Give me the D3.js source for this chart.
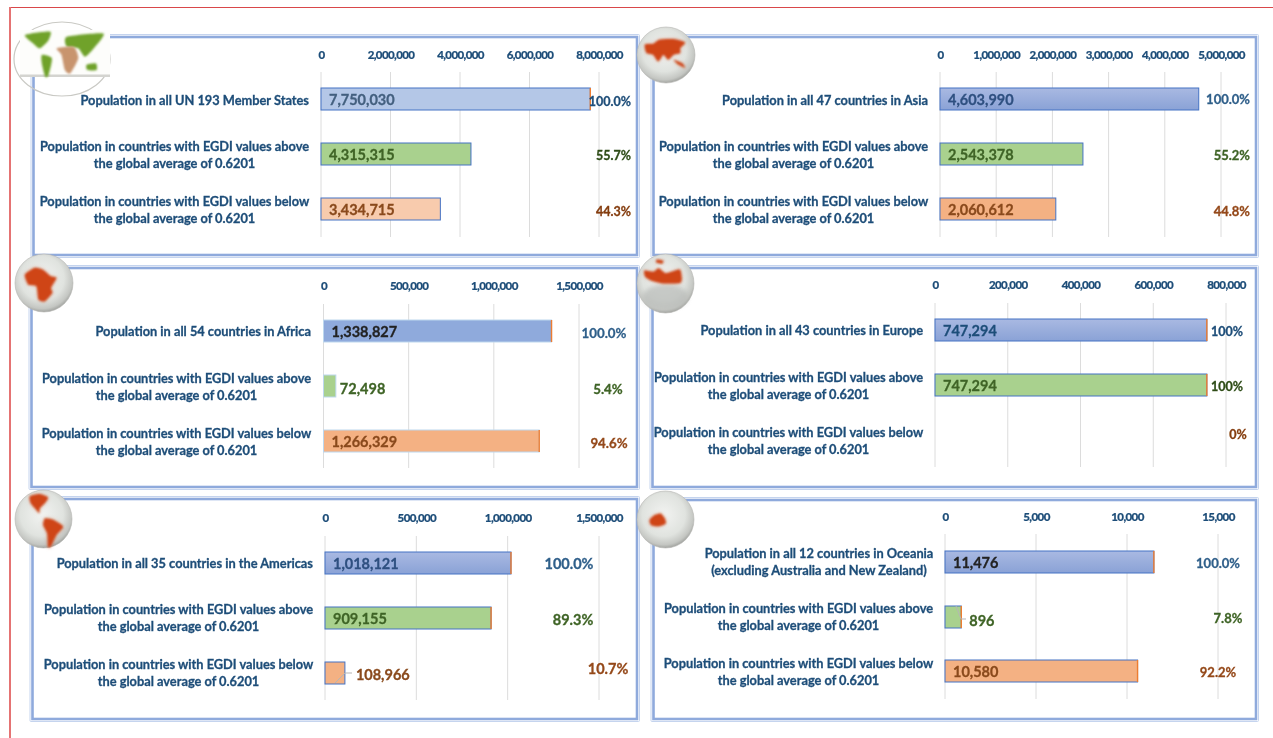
<!DOCTYPE html>
<html><head><meta charset="utf-8">
<script src="https://cdn.jsdelivr.net/npm/d3@7"></script>
<style>
html,body{margin:0;padding:0;background:#fff;overflow:hidden}
svg{display:block}
text{font-family:Lato,"Open Sans",sans-serif;font-weight:700}
</style></head><body>
<script>
// ---------- data ----------
const aboveLabel = ["Population in countries with EGDI values above","the global average of 0.6201"];
const belowLabel = ["Population in countries with EGDI values below","the global average of 0.6201"];
const worldFirstLabel = ["Population in all UN 193 Member States"];
const asiaFirstLabel = ["Population in all 47 countries in Asia"];
const africaFirstLabel = ["Population in all 54 countries in Africa"];
const europeFirstLabel = ["Population in all 43 countries in Europe"];
const americasFirstLabel = ["Population in all 35 countries in the Americas"];
const oceaniaFirstLabel = ["Population in all 12 countries in Oceania","(excluding Australia and New Zealand)"];

const worldValues = [7750030,4315315,3434715];
const asiaValues = [4603990,2543378,2060612];
const africaValues = [1338827,72498,1266329];
const europeValues = [747294,747294,null];
const americasValues = [1018121,909155,108966];
const oceaniaValues = [11476,896,10580];

const worldShares = ["100.0%","55.7%","44.3%"];
const asiaShares = ["100.0%","55.2%","44.8%"];
const africaShares = ["100.0%","5.4%","94.6%"];
const europeShares = ["100%","100%","0%"];
const americasShares = ["100.0%","89.3%","10.7%"];
const oceaniaShares = ["100.0%","7.8%","92.2%"];

const worldTicks = [0,2000000,4000000,6000000,8000000];
const asiaTicks = [0,1000000,2000000,3000000,4000000,5000000];
const africaTicks = [0,500000,1000000,1500000];
const europeTicks = [0,200000,400000,600000,800000];
const americasTicks = [0,500000,1000000,1500000];
const oceaniaTicks = [0,5000,10000,15000];

// ---------- layout and styling ----------
const panels = [
 {labels:worldFirstLabel,values:worldValues,shares:worldShares,ticks:worldTicks,
  frame:[33.5,37,637,255],x:[321,599],tickY:55,grid:[72,237],barY:[88,143,198],labelX:309,labelY:[100,146,201],
  shareX:[631,631,631],shareAnchor:"end",shareY:[101,155,211],shareSize:12.5,fills:["#b4c7e7","#a9d18e","#f8cbad"],stroke:"#4472c4",
  tips:[1,0,0],inside:[1,1,1],first:"#44607f",shareDark:true,valueDy:[0,0,0]},
 {labels:asiaFirstLabel,values:asiaValues,shares:asiaShares,ticks:asiaTicks,
  frame:[653.5,37,1256,255],x:[940,1221],tickY:55,grid:[72,237],barY:[88,143,198],labelX:928,labelY:[100,146,201],
  shareX:[1250,1250,1250],shareAnchor:"end",shareY:[99,155,211],shareSize:13,fills:["url(#blueGrad)","#a9d18e","#f4b183"],stroke:"#4472c4",
  tips:[0,0,0],inside:[1,1,1],first:"#2f5080",valueDy:[0,0,0]},
 {labels:africaFirstLabel,values:africaValues,shares:africaShares,ticks:africaTicks,
  frame:[31.5,268,637,487],x:[323.5,579],tickY:286,grid:[304,468],barY:[320,375,430],labelX:311,labelY:[331,378,433],
  shareX:[604,608,609],shareAnchor:"middle",shareY:[333,389,443],shareSize:13.3,fills:["#8faadc","#a9d18e","#f4b183"],stroke:"#bdd7ee",
  tips:[1,0,1],inside:[1,0,1],first:"#222222",valueDy:[0,2,0]},
 {labels:europeFirstLabel,values:europeValues,shares:europeShares,ticks:europeTicks,
  frame:[652.5,268,1256,487],x:[935,1226],tickY:285,grid:[303,467],barY:[319,374,429],labelX:923,labelY:[330,377,432],
  shareX:[1227,1227,1238],shareAnchor:"middle",shareY:[331,386,434],shareSize:12.5,fills:["url(#blueGrad)","#a9d18e","#f4b183"],stroke:"#4472c4",
  tips:[1,1,0],inside:[1,1,1],first:"#1f4e79",shareDark:true,valueDy:[0,0,0]},
 {labels:americasFirstLabel,values:americasValues,shares:americasShares,ticks:americasTicks,
  frame:[32.5,499,637,719],x:[325,599],tickY:518,grid:[536,700],barY:[552,607,662],labelX:313,labelY:[563,609,664],
  shareX:[569,573,608],shareAnchor:"middle",shareY:[564,620,669],shareSize:14.5,fills:["url(#blueGrad)","#a9d18e","#f4b183"],stroke:"#4472c4",
  tips:[1,1,0],inside:[1,1,0],first:"#2f5080",outsideGap:[0,0,11],valueDy:[0,0,1],
  leader:[[335,683],[345,673],[352,673]]},
 {labels:oceaniaFirstLabel,values:oceaniaValues,shares:oceaniaShares,ticks:oceaniaTicks,
  frame:[653.5,500,1256,719],x:[945,1218],tickY:517,grid:[534,699],barY:[551,606,660],labelX:933,labelY:[553,608,663],
  shareX:[1218,1228,1218],shareAnchor:"middle",shareY:[563,618,672],shareSize:13,fills:["url(#blueGrad)","#a9d18e","#f4b183"],stroke:"#4472c4",
  tips:[1,1,1],inside:[1,0,1],first:"#222222",outsideGap:[0,8,0],valueDy:[0,3,0],
  leader:[[956,606],[961,619],[966,619]]}
];
const barH = 22, lineH = 17;
const labelColors = [null,"#3f6426","#8a4a1c"];
const shareColors = ["#2f5f8a","#3f6426","#94481a"];
const shareDarkColors = ["#1f4e79","#2f4d18","#843c0c"];

const globeAsia = [[[-.73,-.37],[-.44,-.4],[-.21,-.55],[.26,-.57],[.66,-.45],[.49,-.25],[.49,-.07],[.26,-.01],[.08,.17],[-.09,-.01],[-.27,.23],[-.44,-.01],[-.67,-.07]],[[.26,.17],[.55,.29],[.66,.46],[.43,.35]]];
const globeEurope = [[[-.74,-.44],[-.42,-.4],[-.24,-.52],[-.01,-.35],[.22,-.4],[.51,-.47],[.57,-.17],[.51,-.02],[.05,0],[-.19,-.02],[-.48,-.09],[-.71,-.23]],[[-.3,-.81],[-.07,-.76],[-.13,-.67],[-.33,-.72]]];
const globeAfrica = [[[-.66,-.29],[-.33,-.52],[-.04,-.46],[.24,-.23],[.43,-.17],[.24,.17],[.29,.34],[.03,.63],[-.19,.57],[-.26,.11],[-.54,.06]]];
const globeAmericas = [[[-.48,-.78],[-.13,-.86],[.16,-.74],[.05,-.55],[-.13,-.37],[-.15,-.2],[-.3,-.37],[-.45,-.55]],[[.05,-.02],[.34,.03],[.69,.27],[.45,.56],[.28,.91],[.16,.97],[.13,.5],[-.01,.21]]];
const globeOceania = [[[-.56,.02],[-.39,-.15],[-.17,-.21],[-.03,-.04],[.01,.14],[-.24,.24],[-.5,.2]]];
const mapGreen = [[[-.77,-.65],[-.25,-.74],[-.28,-.51],[-.46,-.29],[-.6,-.42]],[[-.42,-.11],[-.21,-.02],[-.28,.43],[-.35,.48],[-.42,.12]],[[.1,-.6],[.86,-.69],[.69,-.33],[.48,-.06],[.34,-.29],[.1,-.33]],[[.51,.16],[.71,.12],[.72,.3],[.53,.3]]];
const mapBrown = [[[-.11,-.29],[.24,-.33],[.34,-.02],[.17,.39],[.06,.3],[-.01,-.11]]];
const globes = [
 {c:[666,55],r:[29,28],land:globeAsia},
 {c:[44,283],r:[29,29],land:globeAfrica},
 {c:[665.5,283.5],r:[28.5,29.5],land:globeEurope,shaded:true},
 {c:[43.5,519],r:[28.5,29],land:globeAmericas},
 {c:[665.5,519.5],r:[28.5,28.5],land:globeOceania}
];

// ---------- drawing ----------
const svg = d3.select("body").append("svg").attr("width",1273).attr("height",738);
const defs = svg.append("defs");
const bg = defs.append("linearGradient").attr("id","blueGrad").attr("x1",0).attr("y1",0).attr("x2",0).attr("y2",1);
bg.append("stop").attr("offset",0).attr("stop-color","#a9b9e2");
bg.append("stop").attr("offset",1).attr("stop-color","#8aa2d6");
const gg = defs.append("radialGradient").attr("id","globeGrad").attr("cx",.47).attr("cy",.42).attr("r",.58);
gg.append("stop").attr("offset",0).attr("stop-color","#f2f3f1");
gg.append("stop").attr("offset",.65).attr("stop-color","#e0e3df");
gg.append("stop").attr("offset",.9).attr("stop-color","#c4c6c2");
gg.append("stop").attr("offset",1).attr("stop-color","#a3a5a1");
defs.append("filter").attr("id","soft").attr("x","-5%").attr("y","-20%").attr("width","110%").attr("height","140%")
  .append("feGaussianBlur").attr("stdDeviation",.3);
defs.append("filter").attr("id","softer").attr("x","-30%").attr("y","-30%").attr("width","160%").attr("height","160%")
  .append("feGaussianBlur").attr("stdDeviation",1);
defs.append("filter").attr("id","halo").attr("x","-40%").attr("y","-40%").attr("width","180%").attr("height","180%")
  .append("feGaussianBlur").attr("stdDeviation",2.2);

// red page border
svg.append("line").attr("x1",10).attr("x2",1273).attr("y1",7.5).attr("y2",7.5).attr("stroke","#d9474a").attr("stroke-width",1);
svg.append("line").attr("x1",10).attr("x2",10).attr("y1",7).attr("y2",738).attr("stroke","#e57373").attr("stroke-width",2);

const fmt = d3.format(",");
const lineShape = d3.line().curve(d3.curveCardinalClosed.tension(.4));
const thicken = (sel,c)=>sel.attr("stroke",c).attr("stroke-width",.3);

panels.forEach(p => {
  const g = svg.append("g");
  const [fx0,fy0,fx1,fy1] = p.frame;
  g.append("rect").attr("x",fx0-2.5).attr("y",fy0-2.5).attr("width",fx1-fx0+5).attr("height",fy1-fy0+5)
    .attr("fill","none").attr("stroke","#c5d4ee").attr("stroke-width",1).attr("rx",1);
  g.append("rect").attr("x",fx0).attr("y",fy0).attr("width",fx1-fx0).attr("height",fy1-fy0)
    .attr("fill","#fff").attr("stroke","#8faadc").attr("stroke-width",2.6);

  const maxTick = p.ticks[p.ticks.length-1];
  const x = d3.scaleLinear().domain([0,maxTick]).range(p.x);

  g.selectAll("line.grid").data(p.ticks).join("line").attr("class","grid")
    .attr("x1",d=>x(d)).attr("x2",d=>x(d)).attr("y1",p.grid[0]).attr("y2",p.grid[1])
    .attr("stroke","#dcdcdc").attr("stroke-width",1);

  const axis = g.append("g").attr("transform",`translate(0,${p.tickY+4})`)
    .call(d3.axisTop(x).tickValues(p.ticks).tickSize(0).tickPadding(0).tickFormat(fmt));
  axis.select(".domain").remove();
  axis.selectAll("text").attr("fill","#1f4e79").style("font-size","11.5px").style("font-weight",900)
    .attr("letter-spacing","-.6").attr("stroke","#1f4e79").attr("stroke-width",.2).attr("filter","url(#soft)");

  p.values.forEach((v,i) => {
    const rows = i===0 ? p.labels : (i===1 ? aboveLabel : belowLabel);
    const t = g.append("text").attr("fill","#1f4e79").attr("font-size",12.8).attr("filter","url(#soft)");
    thicken(t,"#1f4e79");
    const isFirstSingle = i===0 && rows.length===1;
    const centre = i===0 ? p.labelX-114 : p.labelX-134.5;
    t.attr("text-anchor", isFirstSingle ? "end" : "middle");
    rows.forEach((r,k) => {
      t.append("tspan").attr("x", isFirstSingle ? p.labelX : centre).attr("y",p.labelY[i]+k*lineH+5).text(r);
    });

    if (v !== null) {
      const by = p.barY[i];
      g.append("rect").attr("x",x(0)).attr("y",by).attr("width",x(v)-x(0)).attr("height",barH)
        .attr("fill",p.fills[i]).attr("stroke",p.stroke).attr("stroke-width",1);
      if (p.tips[i]) g.append("line").attr("x1",x(v)).attr("x2",x(v)).attr("y1",by).attr("y2",by+barH)
        .attr("stroke","#ed7d31").attr("stroke-width",1.4);
      const gap = (p.outsideGap||[0,0,0])[i];
      const tx = p.inside[i] ? x(0)+8 : x(v)+(gap||4);
      const col = labelColors[i]||p.first;
      thicken(g.append("text").attr("x",tx).attr("y",by+barH/2+5.5+p.valueDy[i]).attr("font-size",14.5)
        .attr("fill",col).attr("filter","url(#soft)").text(fmt(v)),col);
    }
    const sc = (p.shareDark?shareDarkColors:shareColors)[i];
    thicken(g.append("text").attr("x",p.shareX[i]).attr("y",p.shareY[i]+4.5).attr("text-anchor",p.shareAnchor)
      .attr("font-size",p.shareSize).attr("fill",sc).attr("filter","url(#soft)").text(p.shares[i]),sc);
  });
  if (p.leader) g.append("path").attr("d",d3.line()(p.leader)).attr("fill","none").attr("stroke","#b5b5b5").attr("stroke-width",1);
});

// world-map badge
const wm = svg.append("g");
const wc=[62,59], wr=[48,37];
wm.append("ellipse").attr("cx",wc[0]).attr("cy",wc[1]).attr("rx",wr[0]).attr("ry",wr[1])
  .attr("fill","none").attr("stroke","#c9c9c4").attr("stroke-width",1.2);
wm.append("rect").attr("x",20).attr("y",30).attr("width",90).attr("height",47).attr("fill","#fdfdfb");
wm.append("rect").attr("x",20).attr("y",74.5).attr("width",90).attr("height",2.5).attr("fill","#d4d4d0");
const scaleShape = (pts,c,r)=>pts.map(q=>[c[0]+q[0]*r[0],c[1]+q[1]*r[1]]);
mapGreen.forEach(s=>wm.append("path").attr("d",lineShape(scaleShape(s,wc,wr))).attr("fill","#6fa22a").attr("filter","url(#softer)"));
mapBrown.forEach(s=>wm.append("path").attr("d",lineShape(scaleShape(s,wc,wr))).attr("fill","#c8946e").attr("filter","url(#softer)"));

// globes
globes.forEach(b=>{
  const g = svg.append("g");
  g.append("ellipse").attr("cx",b.c[0]).attr("cy",b.c[1]).attr("rx",b.r[0]).attr("ry",b.r[1])
    .attr("fill","url(#globeGrad)").attr("stroke","#b5b6b2").attr("stroke-width",.6);
  if (b.shaded) g.append("ellipse").attr("cx",b.c[0]).attr("cy",b.c[1]+b.r[1]*.45).attr("rx",b.r[0]*.8).attr("ry",b.r[1]*.42)
    .attr("fill","#b9bcb9").attr("opacity",.7).attr("filter","url(#halo)");
  b.land.forEach(s=>{
    const d = lineShape(scaleShape(s,b.c,b.r));
    g.append("path").attr("d",d).attr("fill","#d8836a").attr("opacity",.55).attr("filter","url(#halo)");
    g.append("path").attr("d",d).attr("fill","#cf4516").attr("filter","url(#softer)");
  });
});
</script>
</body></html>
